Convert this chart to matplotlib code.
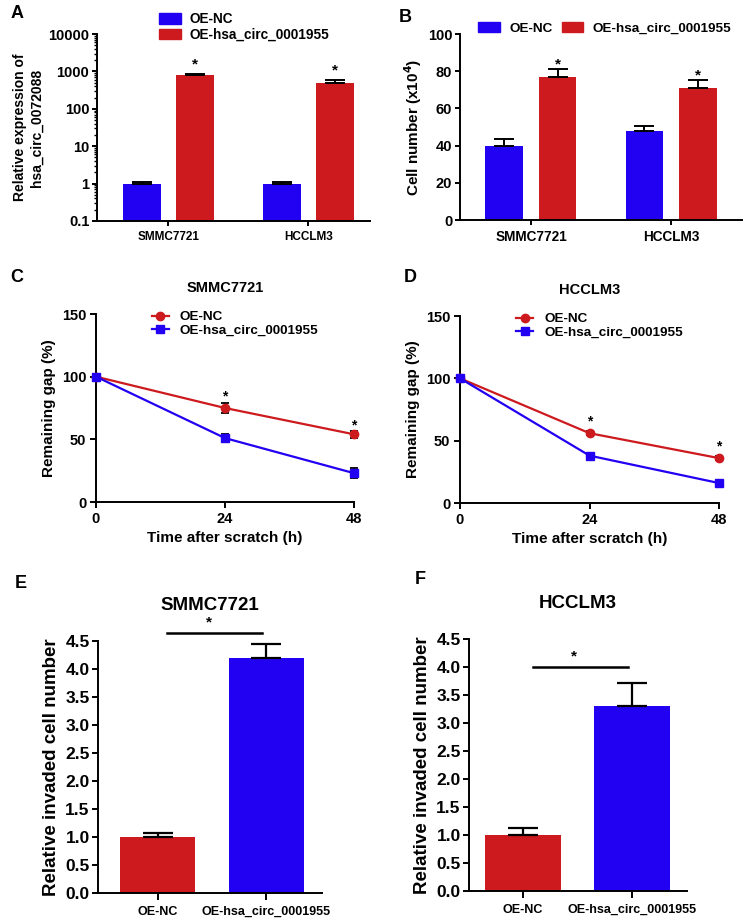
import numpy as np
import matplotlib.pyplot as plt
from matplotlib.patches import Patch
from matplotlib.lines import Line2D

plt.rcParams['font.family'] = ['Liberation Sans', 'DejaVu Sans']
plt.rcParams['font.weight'] = 'bold'
plt.rcParams['axes.linewidth'] = 1.4

# ---- data ----
cell_lines = ['SMMC7721', 'HCCLM3']
expr_nc = [1.0, 1.0]
expr_nc_err = [0.08, 0.08]
expr_oe = [810, 500]
expr_oe_err = [60, 100]

count_nc = [40, 48]
count_nc_err = [3.5, 2.5]
count_oe = [77, 71]
count_oe_err = [4, 4]

time_h = [0, 24, 48]
gap_smmc_nc = [100, 75, 54]
gap_smmc_nc_err = [1, 4, 3]
gap_smmc_oe = [100, 51, 23]
gap_smmc_oe_err = [1, 3, 4]
gap_hcc_nc = [100, 56, 36]
gap_hcc_nc_err = [1, 1.5, 1.5]
gap_hcc_oe = [100, 38, 16]
gap_hcc_oe_err = [1, 1.5, 1]

inv_groups = ['OE-NC', 'OE-hsa_circ_0001955']
inv_smmc = [1.0, 4.2]
inv_smmc_err = [0.07, 0.25]
inv_hcc = [1.0, 3.3]
inv_hcc_err = [0.12, 0.42]

BLUE = '#2200F2'
RED = '#CC1A1F'
W, H = 744, 921

fig = plt.figure(figsize=(W / 100, H / 100), dpi=100)


def px_axes(left, right, top, bottom):
    return fig.add_axes([left / W, 1 - bottom / H, (right - left) / W, (bottom - top) / H])


def style(ax, fs=10.5, tl=3.5, pad=2):
    ax.spines['top'].set_visible(False)
    ax.spines['right'].set_visible(False)
    ax.tick_params(direction='out', width=1.4, length=tl, pad=pad, labelsize=fs)
    for lab in ax.get_xticklabels() + ax.get_yticklabels():
        lab.set_fontweight('bold')


def grouped_bars(ax, v_nc, e_nc, v_oe, e_oe, off=0.19, w=0.27):
    x = np.arange(len(cell_lines))
    ekw = dict(ecolor='black', elinewidth=1.4, capsize=7, capthick=1.4)
    ax.bar(x - off, v_nc, w, color=BLUE, yerr=[np.zeros(2), e_nc], error_kw=ekw)
    ax.bar(x + off, v_oe, w, color=RED, yerr=[np.zeros(2), e_oe], error_kw=ekw)
    ax.set_xticks(x)
    ax.set_xticklabels(cell_lines)
    return x


# ---- A ----
axA = px_axes(97, 370, 34, 221)
x = grouped_bars(axA, expr_nc, expr_nc_err, expr_oe, expr_oe_err)
axA.set_yscale('log')
axA.set_ylim(0.1, 10000)
axA.set_xlim(-0.51, 1.44)
axA.set_yticks([0.1, 1, 10, 100, 1000, 10000])
axA.set_yticklabels(['0.1', '1', '10', '100', '1000', '10000'])
axA.set_ylabel('Relative expression of\nhsa_circ_0072088', fontsize=10, fontweight='bold',
               labelpad=3, linespacing=1.3)
for i in range(2):
    axA.text(x[i] + 0.19, (expr_oe[i] + expr_oe_err[i]) * 1.15, '*', ha='center', va='bottom', fontsize=11)
style(axA, 10.5)
axA.tick_params(axis='x', labelsize=8.5, pad=4)
axA.tick_params(axis='y', which='minor', length=2, width=1)
axA.legend(handles=[Patch(color=BLUE, label='OE-NC'), Patch(color=RED, label='OE-hsa_circ_0001955')],
           loc='upper left', bbox_to_anchor=(0.208, 1.145), frameon=False, fontsize=9.8,
           handlelength=1.6, handleheight=0.85, labelspacing=0.1, borderaxespad=0, handletextpad=0.65)

# ---- B ----
axB = px_axes(460, 742, 34, 220)
x = grouped_bars(axB, count_nc, count_nc_err, count_oe, count_oe_err)
axB.set_ylim(0, 100)
axB.set_xlim(-0.507, 1.507)
axB.set_yticks(range(0, 101, 20))
axB.set_ylabel('Cell number (x10$^{\\mathbf{4}}$)', fontsize=11, fontweight='bold', labelpad=3)
for i in range(2):
    axB.text(x[i] + 0.19, count_oe[i] + count_oe_err[i] - 1, '*', ha='center', va='bottom', fontsize=11)
style(axB, 10.5)
axB.tick_params(axis='x', labelsize=9.8, pad=4)
axB.legend(handles=[Patch(color=BLUE, label='OE-NC'), Patch(color=RED, label='OE-hsa_circ_0001955')],
           loc='upper left', bbox_to_anchor=(0.045, 1.095), frameon=False, fontsize=9.7, ncol=2,
           handlelength=1.6, handleheight=0.85, columnspacing=0.7, borderaxespad=0, handletextpad=0.7)


# ---- C / D ----
def gap_panel(ax, nc, nc_err, oe, oe_err, title, star_y):
    ekw = dict(ecolor='black', elinewidth=1.3, capsize=3, capthick=1.3)
    ax.errorbar(time_h, nc, yerr=nc_err, color=RED, marker='o', ms=6, lw=1.6, clip_on=False, zorder=3, **ekw)
    ax.errorbar(time_h, oe, yerr=oe_err, color=BLUE, marker='s', ms=6, lw=1.6, clip_on=False, zorder=3, **ekw)
    ax.set_xlim(0, 48)
    ax.set_ylim(0, 150)
    ax.set_xticks([0, 24, 48])
    ax.set_yticks([0, 50, 100, 150])
    ax.set_xlabel('Time after scratch (h)', fontsize=11, fontweight='bold')
    ax.set_ylabel('Remaining gap (%)', fontsize=11, fontweight='bold')
    ax.set_title(title, fontsize=10.5, fontweight='bold', pad=16)
    for t, sy in zip(time_h[1:], star_y):
        ax.text(t, sy, '*', ha='center', va='center', fontsize=10)
    style(ax, 10.5, tl=4, pad=3)
    handles = [Line2D([], [], color=RED, marker='o', ms=6, lw=1.6, label='OE-NC'),
               Line2D([], [], color=BLUE, marker='s', ms=6, lw=1.6, label='OE-hsa_circ_0001955')]
    ax.legend(handles=handles, loc='upper left', bbox_to_anchor=(0.195, 1.045), frameon=False,
              fontsize=9.7, handlelength=1.3, labelspacing=0.1, borderaxespad=0, handletextpad=0.8)


axC = px_axes(96, 354, 314, 502)
gap_panel(axC, gap_smmc_nc, gap_smmc_nc_err, gap_smmc_oe, gap_smmc_oe_err, 'SMMC7721', [84, 61])
axD = px_axes(460, 719, 316, 503)
gap_panel(axD, gap_hcc_nc, gap_hcc_nc_err, gap_hcc_oe, gap_hcc_oe_err, 'HCCLM3', [65, 45])


# ---- E / F ----
def inv_panel(ax, vals, errs, title, line_y, xlim):
    x = np.arange(len(inv_groups))
    ekw = dict(ecolor='black', elinewidth=1.6, capsize=11, capthick=1.6)
    ax.bar(x, vals, 0.69, color=[RED, BLUE], yerr=[np.zeros(2), errs], error_kw=ekw)
    ax.set_xticks(x)
    ax.set_xticklabels(inv_groups)
    ax.set_xlim(*xlim)
    ax.set_ylim(0, 4.5)
    ax.set_yticks(np.arange(0, 4.51, 0.5))
    ax.set_yticklabels(['%.1f' % v for v in np.arange(0, 4.51, 0.5)])
    ax.set_ylabel('Relative invaded cell number', fontsize=13.5, fontweight='bold', labelpad=4)
    ax.set_title(title, fontsize=13.5, fontweight='bold', pad=22)
    ax.plot([x[0] + 0.09, x[1] - 0.04], [line_y, line_y], color='black', lw=1.8, clip_on=False)
    ax.text((x[0] + x[1]) / 2 - 0.03, line_y + 0.06, '*', ha='center', va='bottom', fontsize=11)
    style(ax, 12.5, tl=4, pad=2)
    ax.tick_params(axis='x', labelsize=9, length=5, pad=4)


axE = px_axes(98, 322, 641, 893)
inv_panel(axE, inv_smmc, inv_smmc_err, 'SMMC7721', 4.64, (-0.55, 1.514))
axF = px_axes(469, 687, 639, 891)
inv_panel(axF, inv_hcc, inv_hcc_err, 'HCCLM3', 4.0, (-0.495, 1.505))

# panel letters
for lab, px, py in [('A', 17, 14), ('B', 405, 17), ('C', 17, 277), ('D', 410, 277),
                    ('E', 21, 584), ('F', 420, 579)]:
    fig.text(px / W, 1 - py / H, lab, fontsize=13, fontweight='bold', ha='center', va='center')

fig.savefig('out.png', dpi=100)
